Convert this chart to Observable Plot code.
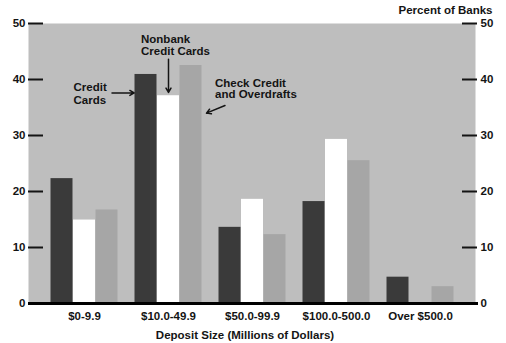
<!DOCTYPE html>
<html>
<head>
<meta charset="utf-8">
<script src="https://cdn.jsdelivr.net/npm/d3@7"></script>
<script src="https://cdn.jsdelivr.net/npm/@observablehq/plot@0.6"></script>
<style>
  body { margin: 0; background: #fff; }
  #chart svg { display: block; }
</style>
</head>
<body>
<div id="chart"></div>
<script>
// Share of banks offering each kind of consumer credit, by deposit size
const depositSizes = ["$0-9.9", "$10.0-49.9", "$50.0-99.9", "$100.0-500.0", "Over $500.0"];
const seriesNames = ["Credit Cards", "Nonbank Credit Cards", "Check Credit and Overdrafts"];
const creditCards        = [22.3, 40.9, 13.6, 18.2, 4.7];
const nonbankCreditCards = [14.9, 37.1, 18.6, 29.3, 0];
const checkCredit        = [16.7, 42.5, 12.3, 25.5, 3.0];
const yTicks = [0, 10, 20, 30, 40, 50];

const rows = (values) => depositSizes.map((size, i) => ({size, value: values[i]}));

const ink = "#141414";
const inset = 31;     // narrows each band to a single bar
const step = 22.5;    // horizontal shift between adjacent bars in a group

const chart = Plot.plot({
  width: 506,
  height: 343,
  marginLeft: 28,
  marginRight: 31,
  marginTop: 23,
  marginBottom: 40,
  style: {
    fontFamily: "'Liberation Sans', Arial, sans-serif",
    fontSize: "11.5px",
    fontWeight: "bold",
    color: ink,
    background: "#fff",
    overflow: "visible"
  },
  x: {domain: depositSizes, paddingInner: 0, paddingOuter: 0.145, label: null},
  y: {domain: [0, 50], label: null},
  marks: [
    Plot.frame({fill: "#bebebe", stroke: null}),
    Plot.barY(rows(creditCards), {x: "size", y: "value", fill: "#3a3a3a", insetLeft: inset, insetRight: inset, dx: -step}),
    Plot.barY(rows(nonbankCreditCards), {x: "size", y: "value", fill: "#ffffff", insetLeft: inset, insetRight: inset}),
    Plot.barY(rows(checkCredit), {x: "size", y: "value", fill: "#a6a6a6", insetLeft: inset, insetRight: inset, dx: step}),

    // inward tick marks on both sides
    Plot.ruleY(yTicks, {stroke: ink, strokeWidth: 2, insetRight: 432}),
    Plot.ruleY(yTicks, {stroke: ink, strokeWidth: 2, insetLeft: 434, insetRight: -2}),
    Plot.ruleY([0], {stroke: "#000", strokeWidth: 3, insetRight: -3}),

    Plot.axisY({anchor: "left", ticks: yTicks, tickSize: 0, tickPadding: 3, label: null}),
    Plot.axisY({anchor: "right", ticks: yTicks, tickSize: 0, tickPadding: 5, label: null}),
    Plot.axisX({tickSize: 0, tickPadding: 8, label: null}),

    Plot.text(["Percent of Banks"], {text: d => d, frameAnchor: "top-right", textAnchor: "end", lineAnchor: "middle", dx: 17, dy: -13}),
    Plot.text(["Deposit Size (Millions of Dollars)"], {text: d => d, frameAnchor: "bottom", lineAnchor: "top", dx: -7, dy: 27}),

    // series labels with pointers
    Plot.text([seriesNames[0]], {x: () => depositSizes[0], y: () => 39.7, text: () => "Credit\nCards", textAnchor: "start", lineAnchor: "top", lineHeight: 1.15, dx: -11}),
    Plot.text([seriesNames[1]], {x: () => depositSizes[1], y: () => 48.2, text: () => "Nonbank\nCredit Cards", textAnchor: "start", lineAnchor: "top", lineHeight: 1.1, dx: -27.5}),
    Plot.text([seriesNames[2]], {x: () => depositSizes[1], y: () => 40.2, text: () => "Check Credit\nand Overdrafts", textAnchor: "start", lineAnchor: "top", lineHeight: 1.0, dx: 46.5}),

    Plot.arrow([seriesNames[0]], {x1: () => depositSizes[0], x2: () => depositSizes[1], y1: () => 37.6, y2: () => 37.6, insetStart: 27.5, insetEnd: 34.3, stroke: ink, strokeWidth: 1.5, headLength: 5}),
    Plot.arrow([seriesNames[1]], {x1: () => depositSizes[1], x2: () => depositSizes[1], y1: () => 43.6, y2: () => 37.7, stroke: ink, strokeWidth: 1.5, headLength: 5}),
    Plot.arrow([seriesNames[2]], {x1: () => depositSizes[2], x2: () => depositSizes[1], y1: () => 37.35, y2: () => 31.23, insetStart: 29.7, insetEnd: 41, stroke: ink, strokeWidth: 1.5, headLength: 5})
  ]
});

document.getElementById("chart").append(chart);
</script>
</body>
</html>
